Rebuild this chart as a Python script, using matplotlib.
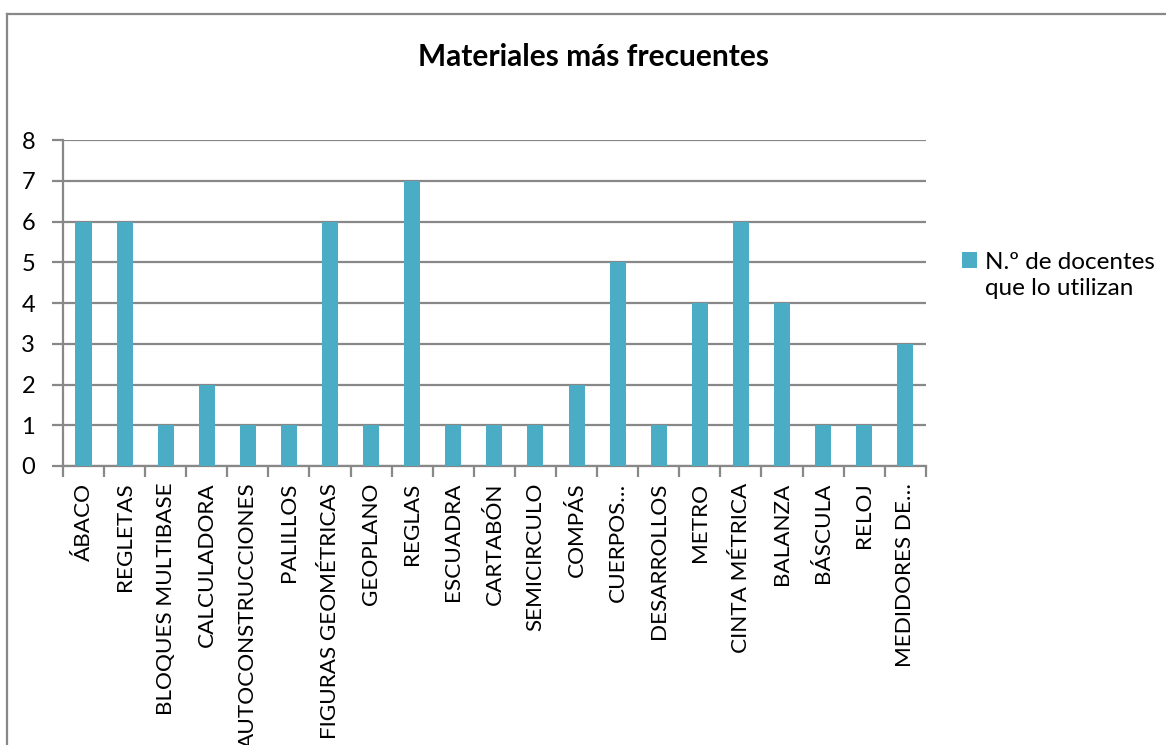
import matplotlib.pyplot as plt
from matplotlib.lines import Line2D
from matplotlib.patches import Patch
import numpy as np

plt.rcParams['font.family'] = ['Lato', 'DejaVu Sans']

materiales = ['ÁBACO', 'REGLETAS', 'BLOQUES MULTIBASE', 'CALCULADORA',
              'AUTOCONSTRUCCIONES', 'PALILLOS', 'FIGURAS GEOMÉTRICAS',
              'GEOPLANO', 'REGLAS', 'ESCUADRA', 'CARTABÓN', 'SEMICIRCULO',
              'COMPÁS', 'CUERPOS…', 'DESARROLLOS', 'METRO', 'CINTA MÉTRICA',
              'BALANZA', 'BÁSCULA', 'RELOJ', 'MEDIDORES DE…']
docentes = [6, 6, 1, 2, 1, 1, 6, 1, 7, 1, 1, 1, 2, 5, 1, 4, 6, 4, 1, 1, 3]
yticks = [0, 1, 2, 3, 4, 5, 6, 7, 8]
serie = ['N.º de docentes', 'que lo utilizan']

bar_color = '#4BACC6'
grey = '#888888'

fig = plt.figure(figsize=(11.66, 7.45), dpi=100)
ax = fig.add_axes([0.054, 0.3745, 0.74, 0.4375])

x = np.arange(len(materiales))
ax.bar(x, docentes, width=0.39, color=bar_color, zorder=3)

ax.set_xlim(-0.5, len(materiales) - 0.5)
ax.set_ylim(0, 8)
ax.set_yticks(yticks)
ax.set_yticklabels([str(v) for v in yticks], fontsize=17)
ax.yaxis.grid(True, color=grey, linewidth=1.6, zorder=0)

# category labels in the middle, tick marks at the boundaries
ax.set_xticks(x)
ax.set_xticklabels(materiales, rotation=90, fontsize=16.2, va='top', ha='center')
ax.tick_params(axis='x', which='major', length=0, pad=12)
ax.set_xticks(np.arange(-0.5, len(materiales)), minor=True)
ax.tick_params(axis='x', which='minor', length=8, width=1.6, color=grey)
ax.tick_params(axis='y', length=8, width=1.6, color=grey, pad=12)

for s in ['top', 'right']:
    ax.spines[s].set_visible(False)
for s in ['left', 'bottom']:
    ax.spines[s].set_color(grey)
    ax.spines[s].set_linewidth(1.6)

fig.text(0.509, 0.923, 'Materiales más frecuentes', ha='center', va='center',
         fontsize=21.5, fontweight='bold')

# legend: square next to the first line only
handles = [Patch(facecolor=bar_color), Line2D([], [], linestyle='none')]
fig.legend(handles, serie, loc='upper left', bbox_to_anchor=(0.817, 0.675),
           frameon=False, fontsize=17.5, handlelength=0.62, handleheight=0.62,
           handletextpad=0.3, labelspacing=0.2, borderaxespad=0)

# chart border (only the top and left edges are inside the picture)
fig.add_artist(Line2D([0.006, 1.0], [0.981, 0.981], color=grey, linewidth=1.6,
                      transform=fig.transFigure))
fig.add_artist(Line2D([0.006, 0.006], [0.0, 0.981], color=grey, linewidth=1.6,
                      transform=fig.transFigure))

fig.savefig('out.png', dpi=100)
